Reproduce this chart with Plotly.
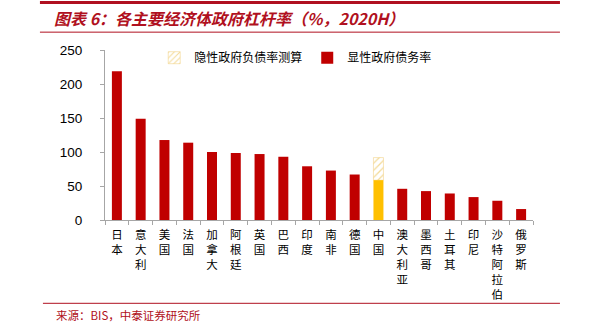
import plotly.graph_objects as go

countries = ["日本", "意大利", "美国", "法国", "加拿大", "阿根廷", "英国", "巴西", "印度",
             "南非", "德国", "中国", "澳大利亚", "墨西哥", "土耳其", "印尼", "沙特阿拉伯", "俄罗斯"]
explicit = [218.6, 148.9, 117.6, 113.7, 100.0, 98.5, 97.0, 93.0, 79.0,
            72.7, 66.9, 58.6, 45.9, 42.5, 39.0, 33.7, 28.3, 16.1]
implicit_china = 33.2  # 隐性负债 increment on top of China's explicit rate

RED = "#C00000"
YELLOW = "#FFC000"
TITLE_RED = "#B01020"

labels = ["<br>".join(list(c)) for c in countries]
colors = [YELLOW if c == "中国" else RED for c in countries]
implicit = [implicit_china if c == "中国" else None for c in countries]

fig = go.Figure()
fig.add_trace(go.Bar(
    x=labels, y=implicit, base=[e if c == "中国" else None for c, e in zip(countries, explicit)],
    name="隐性政府负债率测算",
    marker=dict(color="white", line=dict(color="#F3D38A", width=0.6),
                pattern=dict(shape="/", fgcolor="#E8B530", bgcolor="white", size=5, solidity=0.25)),
    width=0.42, showlegend=True,
))
fig.add_trace(go.Bar(
    x=labels, y=explicit, name="显性政府债务率",
    marker=dict(color=colors, line=dict(width=0)),
    width=0.42,
))

fig.update_layout(
    width=590, height=328,
    margin=dict(l=105, r=57, t=50, b=108),
    plot_bgcolor="white", paper_bgcolor="white",
    barmode="overlay",
    font=dict(family="Noto Sans CJK SC, Arial", color="black", size=12),
    legend=dict(orientation="h", x=0.115, y=1.04, yanchor="top", xanchor="left",
                font=dict(size=12, family="Noto Sans CJK SC"), bgcolor="rgba(0,0,0,0)",
                traceorder="normal", itemwidth=30),
    xaxis=dict(showline=True, linecolor="#A6A6A6", linewidth=1, ticks="outside",
               tickson="boundaries", ticklen=4, tickcolor="#A6A6A6", ticklabelstandoff=4,
               tickfont=dict(size=11.5, family="Noto Sans CJK SC"), tickangle=0),
    yaxis=dict(range=[0, 250], dtick=50, showline=True, linecolor="#A6A6A6", linewidth=1,
               ticks="outside", ticklen=4, tickcolor="#A6A6A6", showgrid=False, zeroline=False,
               tickfont=dict(size=13.5, family="Arial"), ticksuffix="    "),
    showlegend=True,
)

# header / footer decorations
fig.add_shape(type="line", xref="paper", yref="paper", x0=-0.152, x1=1.063, y0=1.28, y1=1.28,
              line=dict(color=TITLE_RED, width=3))
fig.add_shape(type="line", xref="paper", yref="paper", x0=-0.152, x1=1.063, y0=1.105, y1=1.105,
              line=dict(color=TITLE_RED, width=1))
fig.add_shape(type="line", xref="paper", yref="paper", x0=-0.145, x1=1.063, y0=-0.49, y1=-0.49,
              line=dict(color=TITLE_RED, width=1))
fig.add_annotation(xref="paper", yref="paper", x=-0.125, y=1.19, xanchor="left", yanchor="middle",
                   text="<b><i>图表 6：各主要经济体政府杠杆率（%，2020H）</i></b>", showarrow=False,
                   font=dict(size=16, color=TITLE_RED, family="Noto Sans CJK SC"))
fig.add_annotation(xref="paper", yref="paper", x=-0.12, y=-0.56, xanchor="left", yanchor="middle",
                   text="来源：BIS，中泰证券研究所", showarrow=False,
                   font=dict(size=11.5, color=TITLE_RED, family="Noto Sans CJK SC"))

fig.write_html("out.html")
